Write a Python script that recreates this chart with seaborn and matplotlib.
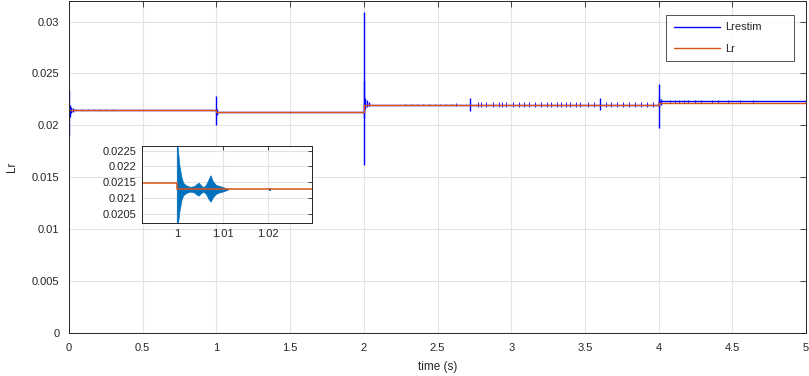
import numpy as np
import pandas as pd
import matplotlib
matplotlib.use("Agg")
import matplotlib.pyplot as plt
from matplotlib.ticker import FormatStrFormatter
import seaborn as sns

# Lr reference (step changes at 1 s, 2 s and 4 s)
lr_t = [0, 1, 1, 2, 2, 4, 4, 5]
lr_v = [0.02150, 0.02150, 0.02128, 0.02128, 0.02200, 0.02200, 0.02215, 0.02215]

# Lrestim baseline
est_t = [0, 1, 1, 2, 2, 4, 4, 5]
est_v = [0.02150, 0.02150, 0.02128, 0.02128, 0.02200, 0.02200, 0.02230, 0.02230]

# Lrestim transients (time, max, min)
spike_t = [0.000, 0.004, 0.012, 0.025, 1.000, 1.004, 2.000, 2.004, 2.010, 2.020, 2.035,
           2.722, 3.600, 4.000, 4.006, 4.015]
spike_hi = [0.0234, 0.0220, 0.0218, 0.0217, 0.0228, 0.0216, 0.0309, 0.0243, 0.0226, 0.0224, 0.0222,
            0.02266, 0.02262, 0.0240, 0.0227, 0.0225]
spike_lo = [0.0190, 0.0208, 0.0212, 0.0213, 0.0200, 0.0210, 0.0162, 0.0207, 0.0216, 0.0218, 0.0219,
            0.02134, 0.02144, 0.0197, 0.0218, 0.0220]

# small noise hairs on the estimate (time, half amplitude)
hair_t = [0.05, 0.09, 0.13, 0.17, 0.21, 0.25, 0.30,
          2.28, 2.32, 2.36, 2.40, 2.44, 2.48, 2.52, 2.56, 2.60, 2.627,
          2.774, 2.797, 2.831, 2.876, 2.92, 2.94, 2.967,
          3.01, 3.05, 3.09, 3.12, 3.16, 3.20, 3.24, 3.27, 3.31, 3.34, 3.37, 3.40, 3.44, 3.47,
          3.52, 3.56, 3.64, 3.68, 3.72, 3.76, 3.80, 3.84, 3.88, 3.92, 3.96,
          4.08, 4.11, 4.14, 4.17, 4.20, 4.25, 4.29, 4.36, 4.40, 4.47, 4.55, 4.64]
hair_a = [0.00006] * 7 + [0.00006] * 9 + [0.00015] + [0.00025] * 7 + [0.0002] * 14 + \
         [0.0002] * 11 + [0.00012] * 12

# zoomed view around t = 1 s: oscillation envelope of Lrestim
zoom_t = [1.0000, 1.0002, 1.0006, 1.0010, 1.0014, 1.0020, 1.0029, 1.0038, 1.0044, 1.0048, 1.0053,
          1.0058, 1.0064, 1.0070, 1.0074, 1.0078, 1.0085, 1.0092, 1.0100, 1.0108, 1.0113]
zoom_hi = [0.0235, 0.0226, 0.0220, 0.02167, 0.02148, 0.0214, 0.02135, 0.02137, 0.02145, 0.02148, 0.02140,
           0.02133, 0.02142, 0.02160, 0.02172, 0.02155, 0.02142, 0.02138, 0.02135, 0.02130, 0.02127]
zoom_lo = [0.0195, 0.0201, 0.0206, 0.02092, 0.02108, 0.02115, 0.0212, 0.02117, 0.02110, 0.02107, 0.02115,
           0.0212, 0.02112, 0.02095, 0.02088, 0.02100, 0.02112, 0.02117, 0.0212, 0.02124, 0.02127]
zoom_lr_t = [0.99, 1.0, 1.0, 1.03]
zoom_lr_v = [0.02146, 0.02146, 0.02127, 0.02127]

sns.set_theme(style="whitegrid")
plt.rcParams["font.family"] = ["Liberation Sans", "DejaVu Sans"]
plt.rcParams["font.size"] = 8

BLUE = "#0000ff"
RED = "#d95319"
IBLUE = "#0072bd"
SPINE = "#262626"
GRID = "#e3e3e3"

fig = plt.figure(figsize=(8.09, 3.76), dpi=100)
ax = fig.add_axes([0.0853, 0.1144, 0.9110, 0.8836])

est_df = pd.DataFrame({"t": est_t, "v": est_v})
lr_df = pd.DataFrame({"t": lr_t, "v": lr_v})
sns.lineplot(data=est_df, x="t", y="v", ax=ax, color=BLUE, lw=1, sort=False,
             estimator=None, label="Lrestim")
ax.vlines(spike_t, spike_lo, spike_hi, color=BLUE, lw=1)

# baseline value of the estimate under each hair
seg_start = est_t[0::2]
seg_val = est_v[0::2]
hair_base = np.array([seg_val[np.searchsorted(seg_start, h, side="right") - 1] for h in hair_t])
ax.vlines(hair_t, hair_base - np.array(hair_a), hair_base + np.array(hair_a), color=BLUE, lw=0.6)

sns.lineplot(data=lr_df, x="t", y="v", ax=ax, color=RED, lw=1, sort=False,
             estimator=None, label="Lr")

ax.set_xlim(0, 5)
ax.set_ylim(0, 0.032)
ax.set_xticks(np.arange(0, 5.01, 0.5))
ax.set_yticks(np.arange(0, 0.0301, 0.005))
ax.xaxis.set_major_formatter(FormatStrFormatter("%g"))
ax.yaxis.set_major_formatter(FormatStrFormatter("%g"))
ax.set_xlabel("time (s)", fontsize=8.5, labelpad=6)
ax.set_ylabel("Lr", fontsize=8.5, labelpad=10)
ax.grid(True, color=GRID, lw=0.8)
ax.set_facecolor("white")
for s in ax.spines.values():
    s.set_color(SPINE)
    s.set_linewidth(0.7)
ax.tick_params(direction="in", length=4, width=0.6, color=SPINE, top=True, right=True,
               labelsize=8, pad=7)

leg = ax.legend(loc="upper left", bbox_to_anchor=(0.81, 0.858, 0.174, 0.1), mode="expand",
                frameon=True, fancybox=False, edgecolor=SPINE, handlelength=4.2,
                handletextpad=0.4, borderpad=0.7, labelspacing=1.0, fontsize=8,
                borderaxespad=0)
leg.get_frame().set_linewidth(0.7)

# inset
ax2 = fig.add_axes([0.1752, 0.4069, 0.2101, 0.2048])
ax2.set_facecolor("white")
ax2.fill_between(zoom_t, zoom_lo, zoom_hi, color=IBLUE, lw=0.5, edgecolor=IBLUE)
ax2.vlines([1.0204], [0.02123], [0.02131], color=IBLUE, lw=1.5)
zlr_df = pd.DataFrame({"t": zoom_lr_t, "v": zoom_lr_v})
sns.lineplot(data=zlr_df, x="t", y="v", ax=ax2, color=RED, lw=1.1, sort=False, estimator=None)
ax2.set_xlim(0.99234, 1.0295)
ax2.set_ylim(0.0202, 0.02265)
ax2.set_xticks([1.0, 1.01, 1.02])
ax2.set_yticks([0.0205, 0.021, 0.0215, 0.022, 0.0225])
ax2.xaxis.set_major_formatter(FormatStrFormatter("%g"))
ax2.yaxis.set_major_formatter(FormatStrFormatter("%g"))
ax2.set_xlabel("")
ax2.set_ylabel("")
ax2.grid(True, color=GRID, lw=0.8)
for s in ax2.spines.values():
    s.set_color(SPINE)
    s.set_linewidth(0.7)
ax2.tick_params(direction="in", length=3, width=0.6, color=SPINE, top=True, right=True,
                labelsize=8, pad=4)

fig.savefig("out.png", dpi=100)
